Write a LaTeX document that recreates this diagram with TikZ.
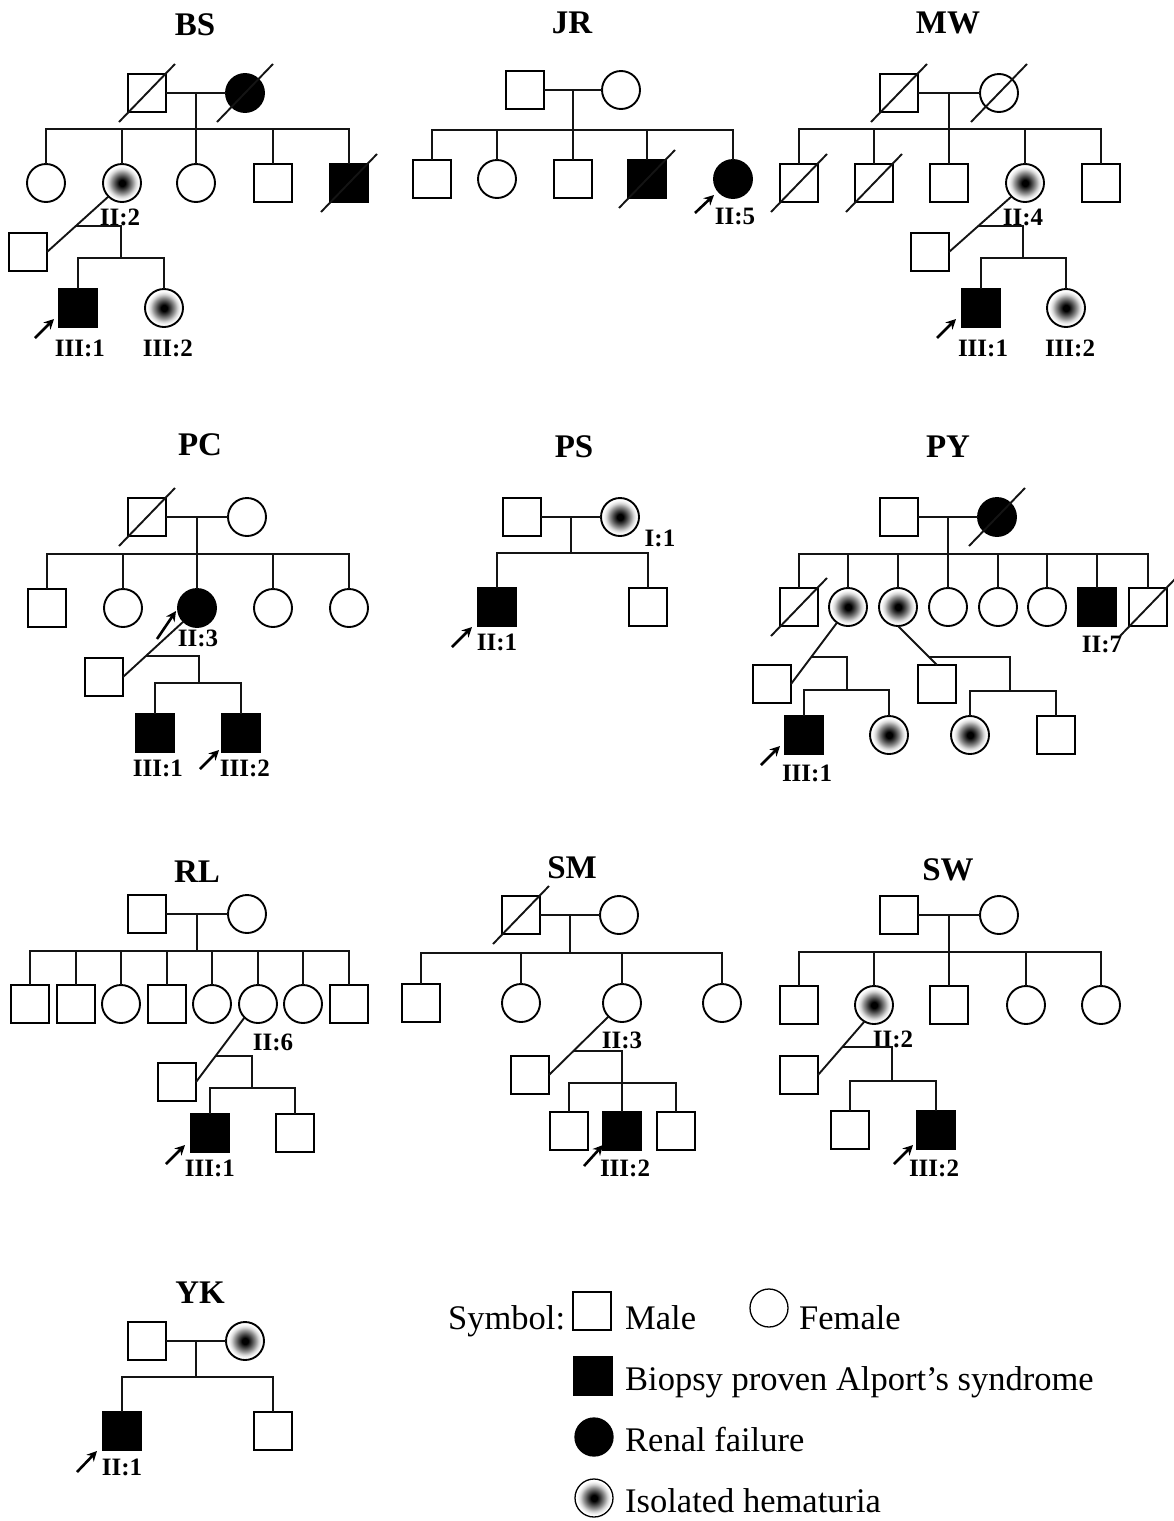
\documentclass[tikz,border=0pt]{standalone}
\usepackage{fontspec}
\setmainfont{Liberation Serif}
\usetikzlibrary{calc,arrows.meta}
\pgfdeclareradialshading{hema}{\pgfpoint{0bp}{0bp}}{color(0bp)=(black); color(4bp)=(black); color(9bp)=(black!72); color(14bp)=(black!42); color(18bp)=(black!16); color(21bp)=(black!4); color(23bp)=(white); color(50bp)=(white)}
\tikzset{
 ped/.style={draw=black, line width=1.9pt, minimum size=38pt, inner sep=0pt, outer sep=0pt},
 male/.style={ped, rectangle, fill=white},
 female/.style={ped, circle, fill=white},
 affm/.style={ped, rectangle, fill=black},
 renal/.style={ped, circle, fill=black},
 hema/.style={ped, circle, shading=hema},
 lk/.style={line width=1.9pt, draw=black!92},
 ttl/.style={font=\bfseries\fontsize{33}{33}\selectfont, inner sep=0pt},
 lbl/.style={font=\bfseries\fontsize{25}{25}\selectfont, inner sep=0pt},
 leg/.style={font=\fontsize{34.5}{40}\selectfont, inner sep=0pt, anchor=base west},
 prob/.style={line width=2.6pt, draw=black, -{Stealth[length=10pt,width=10pt]}},
}
\newcommand{\deceased}[1]{\draw[lk] ($(#1.center)+(-28,29)$) -- ($(#1.center)+(28,-29)$);}
\begin{document}
\begin{tikzpicture}[x=1pt,y=-1pt]
\useasboundingbox (0,0) rectangle (1174,1521);

% ================= BS
\node[ttl] (bsT) at (195,25) {BS};
\node[male] (bs11) at (147,93) {};
\node[renal] (bs12) at (245,93) {};
\node[female] (bs21) at (46,183) {};
\node[hema] (bs22) at (122,183) {};
\node[female] (bs23) at (196,183) {};
\node[male] (bs24) at (273,183) {};
\node[affm] (bs25) at (349,183) {};
\node[male] (bs2s) at (28,252) {};
\node[affm] (bs31) at (78,308) {};
\node[hema] (bs32) at (164,308) {};
\node[lbl] (bsL1) at (120,217) {II:2};
\node[lbl] (bsL2) at (80,348) {III:1};
\node[lbl] (bsL3) at (168,348) {III:2};
\coordinate (bs-m) at ($(bs11.east)!.5!(bs12.west)$);
\coordinate (bs-s) at (bs-m |- 0,129);
\draw[lk] (bs11) -- (bs12) (bs-m) -- (bs-s);
\draw[lk] (bs21.north) |- (bs-s) -| (bs25.north);
\foreach \c in {bs22,bs23,bs24} \draw[lk] (\c.north) -- (\c.north |- bs-s);
\draw[lk] (bs2s.east) -- (bs22.225);
\coordinate (bs-d) at (intersection of bs2s.east--bs22.225 and 0,226--10,226);
\coordinate (bs-s2) at (121,258);
\draw[lk] (bs-d) -| (bs-s2);
\draw[lk] (bs31.north) |- (bs-s2) -| (bs32.north);
\deceased{bs11} \deceased{bs12} \deceased{bs25}
\coordinate (bs-at) at (35,338); \coordinate (bs-ah) at (54,319);
\draw[prob] (bs-at) -- (bs-ah);

% ================= JR
\node[ttl] (jrT) at (572,23) {JR};
\node[male] (jr11) at (525,90) {};
\node[female] (jr12) at (621,90) {};
\node[male] (jr21) at (432,179) {};
\node[female] (jr22) at (497,179) {};
\node[male] (jr23) at (573,179) {};
\node[affm] (jr24) at (647,179) {};
\node[renal] (jr25) at (733,179) {};
\node[lbl] (jrL1) at (735,216) {II:5};
\coordinate (jr-m) at ($(jr11.east)!.5!(jr12.west)$);
\coordinate (jr-s) at (jr-m |- 0,130);
\draw[lk] (jr11) -- (jr12) (jr-m) -- (jr-s);
\draw[lk] (jr21.north) |- (jr-s) -| (jr25.north);
\foreach \c in {jr22,jr23,jr24} \draw[lk] (\c.north) -- (\c.north |- jr-s);
\deceased{jr24}
\coordinate (jr-at) at (695,213); \coordinate (jr-ah) at (714,195);
\draw[prob] (jr-at) -- (jr-ah);

% ================= MW
\node[ttl] (mwT) at (948,23) {MW};
\node[male] (mw11) at (899,93) {};
\node[female] (mw12) at (999,93) {};
\node[male] (mw21) at (799,183) {};
\node[male] (mw22) at (874,183) {};
\node[male] (mw23) at (949,183) {};
\node[hema] (mw24) at (1025,183) {};
\node[male] (mw25) at (1101,183) {};
\node[male] (mw2s) at (930,252) {};
\node[affm] (mw31) at (981,308) {};
\node[hema] (mw32) at (1066,308) {};
\node[lbl] (mwL1) at (1023,217) {II:4};
\node[lbl] (mwL2) at (983,348) {III:1};
\node[lbl] (mwL3) at (1070,348) {III:2};
\coordinate (mw-m) at ($(mw11.east)!.5!(mw12.west)$);
\coordinate (mw-s) at (mw-m |- 0,129);
\draw[lk] (mw11) -- (mw12) (mw-m) -- (mw-s);
\draw[lk] (mw21.north) |- (mw-s) -| (mw25.north);
\foreach \c in {mw22,mw23,mw24} \draw[lk] (\c.north) -- (\c.north |- mw-s);
\draw[lk] (mw2s.east) -- (mw24.225);
\coordinate (mw-d) at (intersection of mw2s.east--mw24.225 and 0,226--10,226);
\coordinate (mw-s2) at (1023,258);
\draw[lk] (mw-d) -| (mw-s2);
\draw[lk] (mw31.north) |- (mw-s2) -| (mw32.north);
\deceased{mw11} \deceased{mw12} \deceased{mw21} \deceased{mw22}
\coordinate (mw-at) at (937,338); \coordinate (mw-ah) at (956,319);
\draw[prob] (mw-at) -- (mw-ah);

% ================= PC
\node[ttl] (pcT) at (200,445) {PC};
\node[male] (pc11) at (147,517) {};
\node[female] (pc12) at (247,517) {};
\node[male] (pc21) at (47,608) {};
\node[female] (pc22) at (123,608) {};
\node[renal] (pc23) at (197,608) {};
\node[female] (pc24) at (273,608) {};
\node[female] (pc25) at (349,608) {};
\node[male] (pc2s) at (104,677) {};
\node[affm] (pc31) at (155,733) {};
\node[affm] (pc32) at (241,733) {};
\node[lbl] (pcL1) at (198,638) {II:3};
\node[lbl] (pcL2) at (158,768) {III:1};
\node[lbl] (pcL3) at (245,768) {III:2};
\coordinate (pc-m) at ($(pc11.east)!.5!(pc12.west)$);
\coordinate (pc-s) at (pc-m |- 0,554);
\draw[lk] (pc11) -- (pc12) (pc-m) -- (pc-s);
\draw[lk] (pc21.north) |- (pc-s) -| (pc25.north);
\foreach \c in {pc22,pc23,pc24} \draw[lk] (\c.north) -- (\c.north |- pc-s);
\draw[lk] (pc2s.east) -- (pc23.225);
\coordinate (pc-d) at (intersection of pc2s.east--pc23.225 and 0,656--10,656);
\coordinate (pc-s2) at (199,683);
\draw[lk] (pc-d) -| (pc-s2);
\draw[lk] (pc31.north) |- (pc-s2) -| (pc32.north);
\deceased{pc11}
\coordinate (pc-at) at (157,639); \coordinate (pc-ah) at (176,611);
\draw[prob] (pc-at) -- (pc-ah);
\coordinate (pc-bt) at (200,769); \coordinate (pc-bh) at (219,750);
\draw[prob] (pc-bt) -- (pc-bh);

% ================= PS
\node[ttl] (psT) at (574,447) {PS};
\node[male] (ps11) at (522,517) {};
\node[hema] (ps12) at (620,517) {};
\node[affm] (ps21) at (497,607) {};
\node[male] (ps22) at (648,607) {};
\node[lbl] (psL1) at (660,538) {I:1};
\node[lbl] (psL2) at (497,642) {II:1};
\coordinate (ps-m) at ($(ps11.east)!.5!(ps12.west)$);
\coordinate (ps-s) at (ps-m |- 0,553);
\draw[lk] (ps11) -- (ps12) (ps-m) -- (ps-s);
\draw[lk] (ps21.north) |- (ps-s) -| (ps22.north);
\coordinate (ps-at) at (452,647); \coordinate (ps-ah) at (472,627);
\draw[prob] (ps-at) -- (ps-ah);

% ================= PY
\node[ttl] (pyT) at (948,447) {PY};
\node[male] (py11) at (899,517) {};
\node[renal] (py12) at (997,517) {};
\node[male] (py21) at (799,607) {};
\node[hema] (py22) at (848,607) {};
\node[hema] (py23) at (898,607) {};
\node[female] (py24) at (948,607) {};
\node[female] (py25) at (998,607) {};
\node[female] (py26) at (1047,607) {};
\node[affm] (py27) at (1097,607) {};
\node[male] (py28) at (1148,607) {};
\node[male] (py2s) at (772,684) {};
\node[affm] (py31) at (804,735) {};
\node[hema] (py32) at (889,735) {};
\node[male] (py3s) at (937,684) {};
\node[hema] (py33) at (970,735) {};
\node[male] (py34) at (1056,735) {};
\node[lbl] (pyL1) at (1102,644) {II:7};
\node[lbl] (pyL2) at (807,773) {III:1};
\coordinate (py-m) at ($(py11.east)!.5!(py12.west)$);
\coordinate (py-s) at (py-m |- 0,554);
\draw[lk] (py11) -- (py12) (py-m) -- (py-s);
\draw[lk] (py21.north) |- (py-s) -| (py28.north);
\foreach \c in {py22,py23,py24,py25,py26,py27} \draw[lk] (\c.north) -- (\c.north |- py-s);
\draw[lk] (py2s.east) -- (py22.235);
\coordinate (py-d) at (intersection of py2s.east--py22.235 and 0,657--10,657);
\coordinate (py-s2) at (847,690);
\draw[lk] (py-d) -| (py-s2);
\draw[lk] (py31.north) |- (py-s2) -| (py32.north);
\draw[lk] (py23.south) -- (py3s.north);
\coordinate (py-e) at (intersection of py23.south--py3s.north and 0,657--10,657);
\coordinate (py-s3) at (1010,691);
\draw[lk] (py-e) -| (py-s3);
\draw[lk] (py33.north) |- (py-s3) -| (py34.north);
\deceased{py12} \deceased{py21} \deceased{py28}
\coordinate (py-at) at (761,765); \coordinate (py-ah) at (780,746);
\draw[prob] (py-at) -- (py-ah);

% ================= RL
\node[ttl] (rlT) at (197,872) {RL};
\node[male] (rl11) at (147,914) {};
\node[female] (rl12) at (247,914) {};
\node[male] (rl21) at (30,1004) {};
\node[male] (rl22) at (76,1004) {};
\node[female] (rl23) at (121,1004) {};
\node[male] (rl24) at (167,1004) {};
\node[female] (rl25) at (212,1004) {};
\node[female] (rl26) at (258,1004) {};
\node[female] (rl27) at (303,1004) {};
\node[male] (rl28) at (349,1004) {};
\node[male] (rl2s) at (177,1082) {};
\node[affm] (rl31) at (210,1133) {};
\node[male] (rl32) at (295,1133) {};
\node[lbl] (rlL1) at (273,1042) {II:6};
\node[lbl] (rlL2) at (210,1168) {III:1};
\coordinate (rl-m) at ($(rl11.east)!.5!(rl12.west)$);
\coordinate (rl-s) at (rl-m |- 0,951);
\draw[lk] (rl11) -- (rl12) (rl-m) -- (rl-s);
\draw[lk] (rl21.north) |- (rl-s) -| (rl28.north);
\foreach \c in {rl22,rl23,rl24,rl25,rl26,rl27} \draw[lk] (\c.north) -- (\c.north |- rl-s);
\draw[lk] (rl2s.east) -- (rl26.225);
\coordinate (rl-d) at (intersection of rl2s.east--rl26.225 and 0,1056--10,1056);
\coordinate (rl-s2) at (252,1088);
\draw[lk] (rl-d) -| (rl-s2);
\draw[lk] (rl31.north) |- (rl-s2) -| (rl32.north);
\coordinate (rl-at) at (166,1164); \coordinate (rl-ah) at (185,1145);
\draw[prob] (rl-at) -- (rl-ah);

% ================= SM
\node[ttl] (smT) at (572,868) {SM};
\node[male] (sm11) at (521,915) {};
\node[female] (sm12) at (619,915) {};
\node[male] (sm21) at (421,1003) {};
\node[female] (sm22) at (521,1003) {};
\node[female] (sm23) at (622,1003) {};
\node[female] (sm24) at (722,1003) {};
\node[male] (sm2s) at (530,1075) {};
\node[male] (sm31) at (569,1131) {};
\node[affm] (sm32) at (622,1131) {};
\node[male] (sm33) at (676,1131) {};
\node[lbl] (smL1) at (622,1040) {II:3};
\node[lbl] (smL2) at (625,1168) {III:2};
\coordinate (sm-m) at ($(sm11.east)!.5!(sm12.west)$);
\coordinate (sm-s) at (sm-m |- 0,953);
\draw[lk] (sm11) -- (sm12) (sm-m) -- (sm-s);
\draw[lk] (sm21.north) |- (sm-s) -| (sm24.north);
\foreach \c in {sm22,sm23} \draw[lk] (\c.north) -- (\c.north |- sm-s);
\draw[lk] (sm2s.east) -- (sm23.225);
\coordinate (sm-d) at (intersection of sm2s.east--sm23.225 and 0,1051--10,1051);
\coordinate (sm-s2) at (622,1083);
\draw[lk] (sm-d) -| (sm32.north);
\draw[lk] (sm31.north) |- (sm-s2) -| (sm33.north);
\deceased{sm11}
\coordinate (sm-at) at (584,1166); \coordinate (sm-ah) at (603,1145);
\draw[prob] (sm-at) -- (sm-ah);

% ================= SW
\node[ttl] (swT) at (948,870) {SW};
\node[male] (sw11) at (899,915) {};
\node[female] (sw12) at (999,915) {};
\node[male] (sw21) at (799,1005) {};
\node[hema] (sw22) at (874,1005) {};
\node[male] (sw23) at (949,1005) {};
\node[female] (sw24) at (1026,1005) {};
\node[female] (sw25) at (1101,1005) {};
\node[male] (sw2s) at (799,1075) {};
\node[male] (sw31) at (850,1130) {};
\node[affm] (sw32) at (936,1130) {};
\node[lbl] (swL1) at (893,1039) {II:2};
\node[lbl] (swL2) at (934,1168) {III:2};
\coordinate (sw-m) at ($(sw11.east)!.5!(sw12.west)$);
\coordinate (sw-s) at (sw-m |- 0,952);
\draw[lk] (sw11) -- (sw12) (sw-m) -- (sw-s);
\draw[lk] (sw21.north) |- (sw-s) -| (sw25.north);
\foreach \c in {sw22,sw23,sw24} \draw[lk] (\c.north) -- (\c.north |- sw-s);
\draw[lk] (sw2s.east) -- (sw22.240);
\coordinate (sw-d) at (intersection of sw2s.east--sw22.240 and 0,1047--10,1047);
\coordinate (sw-s2) at (892,1081);
\draw[lk] (sw-d) -| (sw-s2);
\draw[lk] (sw31.north) |- (sw-s2) -| (sw32.north);
\coordinate (sw-at) at (894,1164); \coordinate (sw-ah) at (913,1145);
\draw[prob] (sw-at) -- (sw-ah);

% ================= YK
\node[ttl] (ykT) at (200,1293) {YK};
\node[male] (yk11) at (147,1341) {};
\node[hema] (yk12) at (245,1341) {};
\node[affm] (yk21) at (122,1431) {};
\node[male] (yk22) at (273,1431) {};
\node[lbl] (ykL1) at (122,1467) {II:1};
\coordinate (yk-m) at ($(yk11.east)!.5!(yk12.west)$);
\coordinate (yk-s) at (yk-m |- 0,1377);
\draw[lk] (yk11) -- (yk12) (yk-m) -- (yk-s);
\draw[lk] (yk21.north) |- (yk-s) -| (yk22.north);
\coordinate (yk-at) at (77,1472); \coordinate (yk-ah) at (97,1451);
\draw[prob] (yk-at) -- (yk-ah);

% ================= Legend
\node[leg] (lgT) at (448,1329) {Symbol:};
\node[male, line width=1.3pt] (lgm) at (592,1311) {};
\node[leg] (lgmT) at (625,1329) {Male};
\node[female, line width=1.3pt] (lgf) at (769,1308) {};
\node[leg] (lgfT) at (799,1329) {Female};
\node[affm, line width=1.3pt] (lga) at (593,1376) {};
\node[leg] (lgaT) at (625,1390) {Biopsy proven Alport’s syndrome};
\node[renal, line width=1.3pt] (lgr) at (594,1437) {};
\node[leg] (lgrT) at (625,1451) {Renal failure};
\node[hema, line width=1.3pt] (lgh) at (594,1498) {};
\node[leg] (lghT) at (625,1512) {Isolated hematuria};
\end{tikzpicture}
\end{document}
